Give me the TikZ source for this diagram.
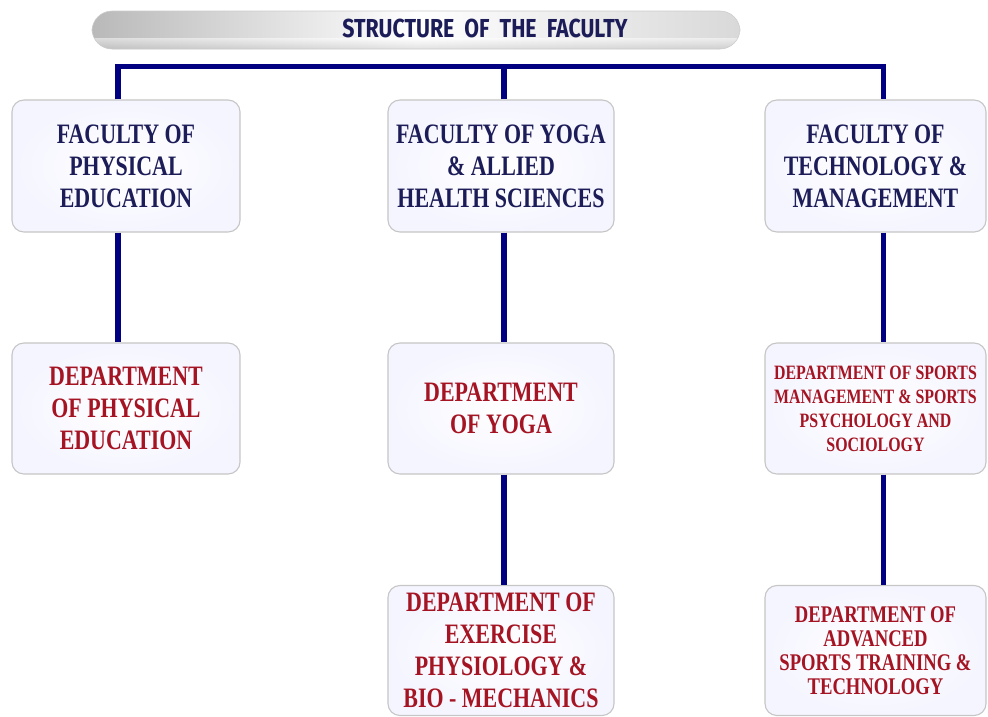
\documentclass[tikz,border=0pt]{standalone}
\usepackage{fontspec}
\setmainfont[FakeStretch=0.78]{Liberation Serif}
\newfontfamily\titlefont[FakeStretch=0.82]{Fira Sans}
\usetikzlibrary{positioning}

\definecolor{linenavy}{RGB}{0,0,128}
\definecolor{textnavy}{RGB}{28,28,88}
\definecolor{textred}{RGB}{165,20,35}

\tikzset{
  box/.style={rounded corners=0.3cm, draw=gray!45, line width=0.8pt,
    inner color=white, outer color=blue!4!white, align=center,
    minimum width=5.7cm, minimum height=3.3cm, inner sep=2pt},
  fac/.style={box, text=textnavy, font=\bfseries\fontsize{20}{22.8}\selectfont},
  dept/.style={box, text=textred, font=\bfseries\fontsize{20}{22.8}\selectfont},
  deptsmall/.style={box, text=textred, font=\bfseries\fontsize{14.5}{17}\selectfont},
  deptmid/.style={box, text=textred, font=\bfseries\fontsize{17}{17.2}\selectfont},
  link/.style={draw=linenavy, line width=3.6pt}
}

\begin{document}
\begin{tikzpicture}[x=0.025cm, y=-0.025cm]
        \useasboundingbox (0,0) rectangle (988,717);

        % Titel
        \begin{scope}
          \clip[rounded corners=0.5cm] (92,11) rectangle (740,49);
          \shade[left color=gray!55, right color=white] (92,11) rectangle (416,49);
          \shade[left color=white, right color=gray!30] (416,11) rectangle (740,49);
          \shade[top color=white, bottom color=gray!45, opacity=0.5] (92,38) rectangle (740,49);
        \end{scope}
        \draw[rounded corners=0.5cm, draw=gray!40] (92,11) rectangle (740,49);
        \node (title) at (485,28) {\titlefont\bfseries\fontsize{18.5}{20}\selectfont\color{textnavy}STRUCTURE\ \ OF\ \ THE\ \ FACULTY};

        % Fakultaeten
        \node[fac] (fpe) at (126,166) {FACULTY OF\\PHYSICAL\\EDUCATION};
        \node[fac, minimum width=5.65cm] (fyh) at (501,166) {FACULTY OF YOGA\\\& ALLIED\\HEALTH SCIENCES};
        \node[fac, minimum width=5.525cm] (ftm) at (875.5,166) {FACULTY OF\\TECHNOLOGY \&\\MANAGEMENT};

        % Abteilungen
        \node[dept, minimum height=3.275cm] (dpe) at (126,408.5) {DEPARTMENT\\OF PHYSICAL\\EDUCATION};
        \node[dept, minimum width=5.65cm, minimum height=3.275cm] (dyo) at (501,408.5) {DEPARTMENT\\OF YOGA};
        \node[deptsmall, minimum width=5.525cm, minimum height=3.275cm] (dsm) at (875.5,408.5) {DEPARTMENT OF SPORTS\\MANAGEMENT \& SPORTS\\PSYCHOLOGY AND\\SOCIOLOGY};
        \node[dept, minimum width=5.65cm, minimum height=3.25cm] (dep) at (501,650.5) {DEPARTMENT OF\\EXERCISE\\PHYSIOLOGY \&\\BIO - MECHANICS};
        \node[deptmid, minimum width=5.525cm, minimum height=3.25cm] (dat) at (875.5,650.5) {DEPARTMENT OF\\ADVANCED\\SPORTS TRAINING \&\\TECHNOLOGY};

        % Verbindungen
        \draw[link] ([xshift=-0.2cm]fpe.north) -- ++(0,-33) -| ([xshift=0.19cm]ftm.north);
        \draw[link] ([xshift=0.075cm]fyh.north) -- ++(0,-33);
        \draw[link] ([xshift=-0.2cm]fpe.south) -- ([xshift=-0.2cm]dpe.north);
        \draw[link] ([xshift=0.075cm]fyh.south) -- ([xshift=0.075cm]dyo.north);
        \draw[link] ([xshift=0.075cm]dyo.south) -- ([xshift=0.075cm]dep.north);
        \draw[link] ([xshift=0.19cm]ftm.south) -- ([xshift=0.19cm]dsm.north);
        \draw[link] ([xshift=0.19cm]dsm.south) -- ([xshift=0.19cm]dat.north);
\end{tikzpicture}
\end{document}
